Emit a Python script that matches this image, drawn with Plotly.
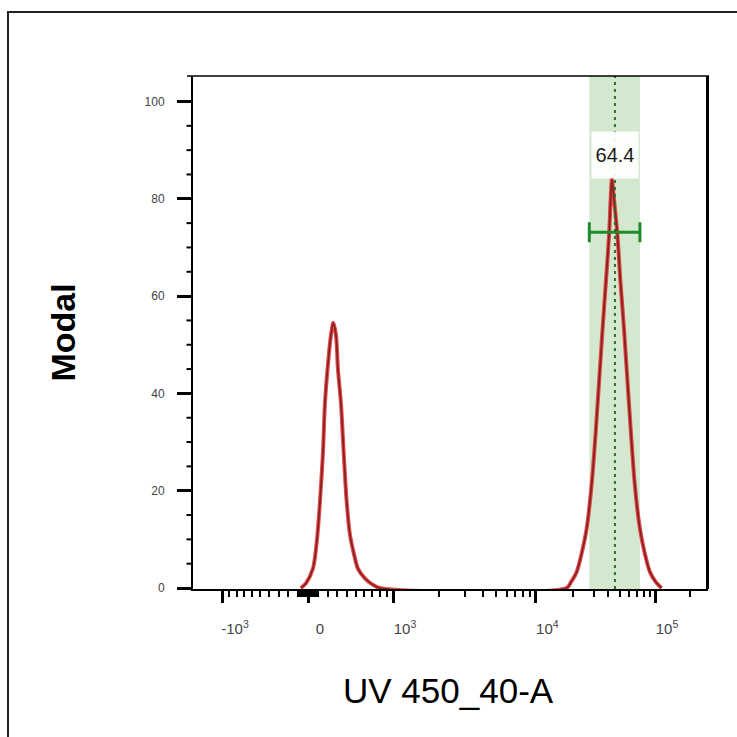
import numpy as np
import plotly.graph_objects as go

# ---------------- data ----------------
left_peak_x = [-71, -20, 50, 91, 121, 152, 172, 203, 234, 258, 286, 307, 339,
               371, 401, 437, 482, 528, 611, 699, 806]
left_peak_y = [0, 1, 4, 10, 17.7, 28, 38, 46, 52, 54.5, 52, 45, 38,
               27, 17.7, 11, 7, 4, 2, 0.8, 0]
right_peak_x = [17900, 19420, 21650, 23500, 26220, 29040, 31380, 35730, 38090,
                40610, 41590, 42820, 44530, 47490, 50560, 54150, 61780, 67230,
                74190, 81900, 90410, 101790, 114000]
right_peak_y = [0, 1.2, 3.3, 6.5, 12.2, 22, 32.8, 53.5, 63,
                73.1, 79, 84.1, 80, 73.1, 63, 53.5, 32.8, 21,
                12.2, 7, 3.3, 1.2, 0]

gate_low = 27600
gate_high = 74190
gate_median = 45400
gate_percent = "64.4"
gate_bar_level = 73.1
gate_label_level = 89

x_major_vals = [-1000, 0, 1000, 10000, 100000]
x_major_text = ["-10<sup>3</sup>", "0", "10<sup>3</sup>", "10<sup>4</sup>", "10<sup>5</sup>"]
x_minor_vals = ([-v for v in range(100, 1000, 100)] + [-v for v in range(10, 100, 10)]
                + list(range(10, 100, 10)) + list(range(100, 1000, 100))
                + list(range(2000, 10000, 1000)) + list(range(20000, 100000, 10000))
                + [200000])
y_major_vals = [0, 20, 40, 60, 80, 100]
y_minor_vals = [v for v in range(5, 105, 5) if v % 20 != 0]

x_title = "UV 450_40-A"
y_title = "Modal"

# ---------------- logicle (biexponential) axis transform ----------------
LOG_T, LOG_M, LOG_W = 262144.0, 4.5, 1.05
LN10 = np.log(10.0)
_w = LOG_W * LN10
_m = LOG_M * LN10
_lo, _hi = 1.0 + 1e-9, 1000.0
for _ in range(200):
    _mid = 0.5 * (_lo + _hi)
    if 2 * _mid * np.log(_mid) / (_mid + 1) < _w:
        _lo = _mid
    else:
        _hi = _mid
_p = 0.5 * (_lo + _hi)
_a = LOG_T * np.exp(-(_m - _w))


def _S(y):
    u = y - _w
    s = np.sign(u)
    u = np.abs(u)
    return s * _a * (np.exp(u) - _p ** 2 * np.exp(-u / _p) + _p ** 2 - 1)


def logicle(x):
    x = np.atleast_1d(np.asarray(x, float))
    lo = np.full(x.shape, -_m)
    hi = np.full(x.shape, 2 * _m)
    for _ in range(90):
        mid = 0.5 * (lo + hi)
        below = _S(mid) < x
        lo = np.where(below, mid, lo)
        hi = np.where(below, hi, mid)
    return 0.5 * (lo + hi) / LN10


# full histogram trace (baseline joins the two peaks)
hist_x = left_peak_x + right_peak_x
hist_y = left_peak_y + right_peak_y
hx = logicle(hist_x)

# ---------------- layout geometry ----------------
W = H = 737
L, R, T, B = 193, 708, 76, 589
t0 = logicle(0)[0]
t5 = logicle(100000)[0]
k = (655 - 308) / (t5 - t0)
x_range = [t0 - (308 - L) / k, t0 + (R - 308) / k]
y_px_per = (588 - 101.5) / 100.0
y_range = [-(B - 588) / y_px_per, (588 - T) / y_px_per]


def px_x(px):
    return (px - L) / (R - L)


def px_y(py):
    return (B - py) / (B - T)


fig = go.Figure()

# red histogram: bright outer glow + darker core
fig.add_trace(go.Scatter(x=hx, y=hist_y, mode="lines",
                         line=dict(color="rgba(225,45,45,0.85)", width=4.0, shape="spline", smoothing=0.8),
                         hoverinfo="skip", showlegend=False))
fig.add_trace(go.Scatter(x=hx, y=hist_y, mode="lines",
                         line=dict(color="#862020", width=1.7, shape="spline", smoothing=0.8),
                         hoverinfo="skip", showlegend=False))

# gate bar with caps
gm = logicle(gate_median)[0]
glo = logicle(gate_low)[0]
ghi = logicle(gate_high)[0]
fig.add_trace(go.Scatter(x=[gm], y=[gate_bar_level], mode="markers",
                         marker=dict(size=1, color="rgba(0,0,0,0)"),
                         error_x=dict(type="data", symmetric=False, array=[ghi - gm],
                                      arrayminus=[gm - glo], color="#1f8a2a",
                                      thickness=3, width=10),
                         hoverinfo="skip", showlegend=False))

shapes = [
    # gate band
    dict(type="rect", xref="x", yref="paper", x0=glo, x1=ghi, y0=0, y1=1,
         fillcolor="#d3e8cf", line=dict(width=0), layer="below"),
    # median dotted line
    dict(type="line", xref="x", yref="paper", x0=gm, x1=gm, y0=0, y1=1,
         line=dict(color="#2e6e30", width=2, dash="3px,4px"), layer="above"),
    # top frame
    dict(type="line", xref="paper", yref="paper", x0=px_x(187), x1=px_x(709), y0=1, y1=1,
         line=dict(color="black", width=1.5)),
    # right frame
    dict(type="line", xref="paper", yref="paper", x0=px_x(707.5), x1=px_x(707.5), y0=0, y1=1,
         line=dict(color="black", width=3)),
    # outer border (left and top)
    dict(type="line", xref="paper", yref="paper", x0=px_x(8), x1=px_x(8), y0=px_y(11.5), y1=px_y(760),
         line=dict(color="#222222", width=2)),
    dict(type="line", xref="paper", yref="paper", x0=px_x(7), x1=px_x(760), y0=px_y(12), y1=px_y(12),
         line=dict(color="#222222", width=2)),
]
# y-axis minor ticks (every 5 units)
for v in y_minor_vals:
    shapes.append(dict(type="line", xref="paper", yref="y", x0=px_x(186.5), x1=px_x(193),
                       y0=v, y1=v, line=dict(color="black", width=2)))

annotations = [
    dict(x=gm, y=gate_label_level, xref="x", yref="y", text=gate_percent, showarrow=False,
         font=dict(family="Liberation Sans, Arial", size=20, color="#1a1a1a"),
         bgcolor="rgba(255,255,255,0.92)", width=44, height=44, align="center"),
    dict(x=0, y=0.5, xref="paper", yref="paper", text="<b>" + y_title + "</b>", showarrow=False,
         textangle=-90, xshift=-(L - 62), xanchor="center", yanchor="middle",
         font=dict(family="Liberation Sans, Arial", size=34, color="black")),
    dict(x=0.5, y=0, xref="paper", yref="paper", text=x_title, showarrow=False,
         yshift=-(690 - B), xshift=-2, xanchor="center", yanchor="middle",
         font=dict(family="Liberation Sans, Arial", size=35, color="black")),
]

fig.update_layout(
    width=W, height=H,
    margin=dict(l=L, r=W - R, t=T, b=H - B, pad=0),
    paper_bgcolor="white", plot_bgcolor="white",
    shapes=shapes, annotations=annotations, showlegend=False,
    xaxis=dict(range=x_range, showgrid=False, zeroline=False,
               showline=True, linecolor="black", linewidth=2,
               tickmode="array", tickvals=logicle(x_major_vals), ticktext=x_major_text,
               ticks="outside", ticklen=12, tickwidth=3, tickcolor="black",
               ticklabelshift=12, ticklabelstandoff=13,
               tickfont=dict(family="Liberation Sans, Arial", size=15, color="#444444"),
               minor=dict(tickmode="array", tickvals=logicle(x_minor_vals), ticks="outside",
                          ticklen=6, tickwidth=2, tickcolor="black")),
    yaxis=dict(range=y_range, showgrid=False, zeroline=False,
               showline=True, linecolor="black", linewidth=2,
               tickmode="array", tickvals=y_major_vals,
               ticks="outside", ticklen=14, tickwidth=3, tickcolor="black",
               ticklabelstandoff=10,
               tickfont=dict(family="Liberation Sans, Arial", size=12, color="#444444")),
)

fig.write_html("out.html")
